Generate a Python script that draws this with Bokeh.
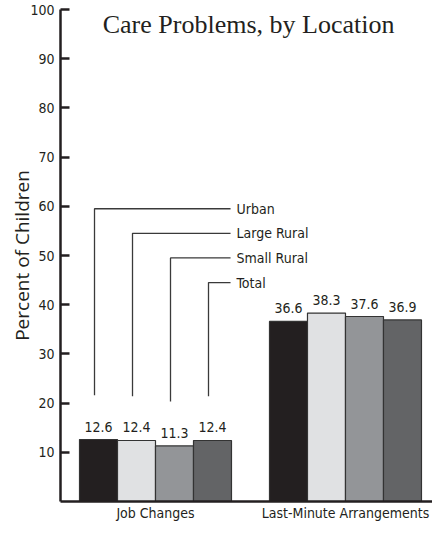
from bokeh.plotting import figure
from bokeh.models import ColumnDataSource, Range1d, FixedTicker, Label, LabelSet
from bokeh.transform import dodge
from bokeh.core.properties import value
from bokeh.embed import file_html
from bokeh.resources import INLINE

# ---- data ----
categories = ["Job Changes", "Last-Minute Arrangements"]
series = ["Urban", "Large Rural", "Small Rural", "Total"]
urban = [12.6, 36.6]
large_rural = [12.4, 38.3]
small_rural = [11.3, 37.6]
total = [12.4, 36.9]
y_ticks = [10, 20, 30, 40, 50, 60, 70, 80, 90, 100]
title_text = "Care Problems, by Location"
y_label = "Percent of Children"

# ---- style ----
colors = ["#231f20", "#e0e1e3", "#939598", "#636466"]
ink = "#231f20"
cond = "'DejaVu Sans Condensed', Roboto, sans-serif"
bar_w = 0.2

values = [urban, large_rural, small_rural, total]
xc = [i + 0.5 for i in range(len(categories))]

p = figure(width=432, height=523, output_backend="svg", toolbar_location=None,
           x_range=Range1d(0, 1.958), y_range=Range1d(0, 100),
           min_border_left=60, min_border_right=0, min_border_top=9,
           min_border_bottom=21)
p.outline_line_color = None
p.grid.grid_line_color = None
p.background_fill_color = "white"
p.border_fill_color = "white"

offsets = [(-1.5 + k) * bar_w for k in range(len(series))]
for k, (name, vals) in enumerate(zip(series, values)):
    src = ColumnDataSource(dict(x=xc, top=vals, lab=[f"{v:.1f}" for v in vals]))
    p.vbar(x=dodge("x", offsets[k]), top="top", bottom=0, width=bar_w, source=src,
           fill_color=colors[k], line_color="#333333", line_width=1.2)
    p.add_layout(LabelSet(x=dodge("x", offsets[k]), y="top", text="lab", source=src,
                          text_align="center", text_baseline="alphabetic", y_offset=8,
                          text_font=value(cond), text_font_size="14px", text_color=ink))

# leader lines for the first group, to a stacked key
key_y = [59.5 - 5 * k for k in range(len(series))]
line_end = xc[0] + 2 * bar_w - 0.005
for k, name in enumerate(series):
    lx = xc[0] + offsets[k] - 0.021
    bottom = values[k][0] + 9
    p.line(x=[lx, lx, line_end], y=[bottom, key_y[k], key_y[k]],
           line_color="#3a3a3a", line_width=1.3)
    p.add_layout(Label(x=line_end, y=key_y[k], text=name, x_offset=6,
                       text_baseline="middle", text_align="left",
                       text_font=cond, text_font_size="14px", text_color=ink))

# title, kept whole at the top edge
p.add_layout(Label(x=0.99, y=100, y_offset=-15, text=title_text, text_align="center",
                   text_baseline="alphabetic", text_font="Liberation Serif",
                   text_font_size="26px", text_color=ink))

# axes
p.yaxis.ticker = FixedTicker(ticks=y_ticks)
p.yaxis.axis_line_width = 2.5
p.yaxis.axis_line_color = ink
p.yaxis.major_tick_in = 9
p.yaxis.major_tick_out = 0
p.yaxis.major_tick_line_width = 2.5
p.yaxis.major_tick_line_color = ink
p.yaxis.minor_tick_line_color = None
p.yaxis.major_label_standoff = 6
p.yaxis.major_label_text_font = cond
p.yaxis.major_label_text_font_size = "14px"
p.yaxis.major_label_text_color = ink
p.yaxis.axis_label = y_label
p.yaxis.axis_label_text_font = "Open Sans"
p.yaxis.axis_label_text_font_style = "normal"
p.yaxis.axis_label_text_font_size = "19px"
p.yaxis.axis_label_text_color = ink
p.yaxis.axis_label_standoff = -8

p.xaxis.ticker = FixedTicker(ticks=xc)
p.xaxis.major_label_overrides = {x: c for x, c in zip(xc, categories)}
p.xaxis.axis_line_width = 2.5
p.xaxis.axis_line_color = ink
p.xaxis.major_tick_in = 0
p.xaxis.major_tick_out = 0
p.xaxis.minor_tick_line_color = None
p.xaxis.major_label_standoff = 3
p.xaxis.major_label_text_font = cond
p.xaxis.major_label_text_font_size = "14px"
p.xaxis.major_label_text_color = ink

open("out.html", "w").write(file_html(p, INLINE))
